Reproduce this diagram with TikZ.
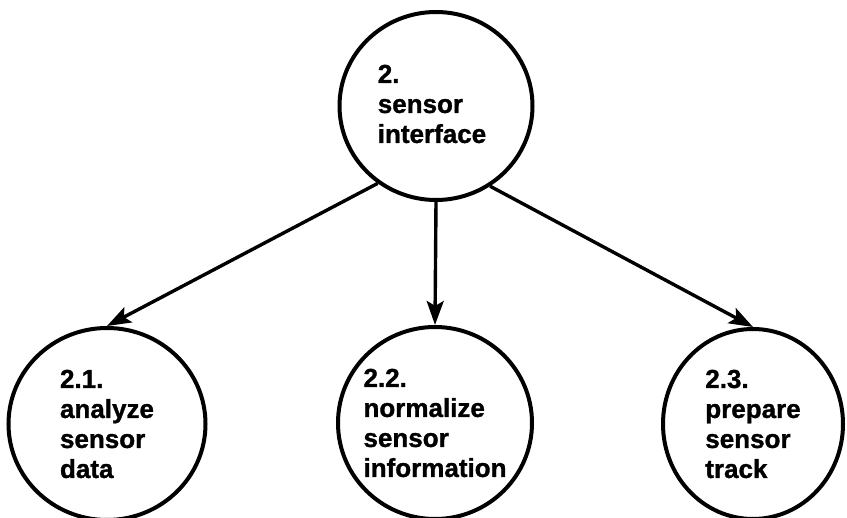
\documentclass[tikz,border=0pt]{standalone}
\usepackage{fontspec}
\setmainfont{Liberation Sans}[BoldFeatures={FakeBold=1.2}]
\usetikzlibrary{shapes.geometric,arrows.meta}
\tikzset{
  bubble/.style={draw, ellipse, line width=4pt, inner sep=0pt},
  caption/.style={align=left, font=\bfseries\fontsize{26}{30}\selectfont, inner sep=0pt},
  flow/.style={line width=3.4pt, -{Stealth[length=24pt,width=17pt,inset=5pt]}}
}
\begin{document}
\begin{tikzpicture}[x=1pt, y=-1pt]
\useasboundingbox (0,0) rectangle (847,518);
\node[bubble, minimum width=193pt, minimum height=188pt] (n2) at (436,106) {};
\node[bubble, minimum width=197pt, minimum height=192pt] (n21) at (107,424) {};
\node[bubble, minimum width=194pt, minimum height=192pt] (n22) at (435,423) {};
\node[bubble, minimum width=180pt, minimum height=190pt] (n23) at (753,424) {};
\node[caption] (t2) at (432,104) {2.\\sensor\\interface};
\node[caption] (t21) at (n21.center) {2.1.\\analyze\\sensor\\data};
\node[caption] (t22) at (n22.center) {2.2.\\normalize\\sensor\\information};
\node[caption] (t23) at (n23.center) {2.3.\\prepare\\sensor\\track};
\draw[flow] (n2.233) -- (n21.north);
\draw[flow] (n2.south) -- (n22.north);
\draw[flow] (n2.304) -- (n23.north);
\end{tikzpicture}
\end{document}
